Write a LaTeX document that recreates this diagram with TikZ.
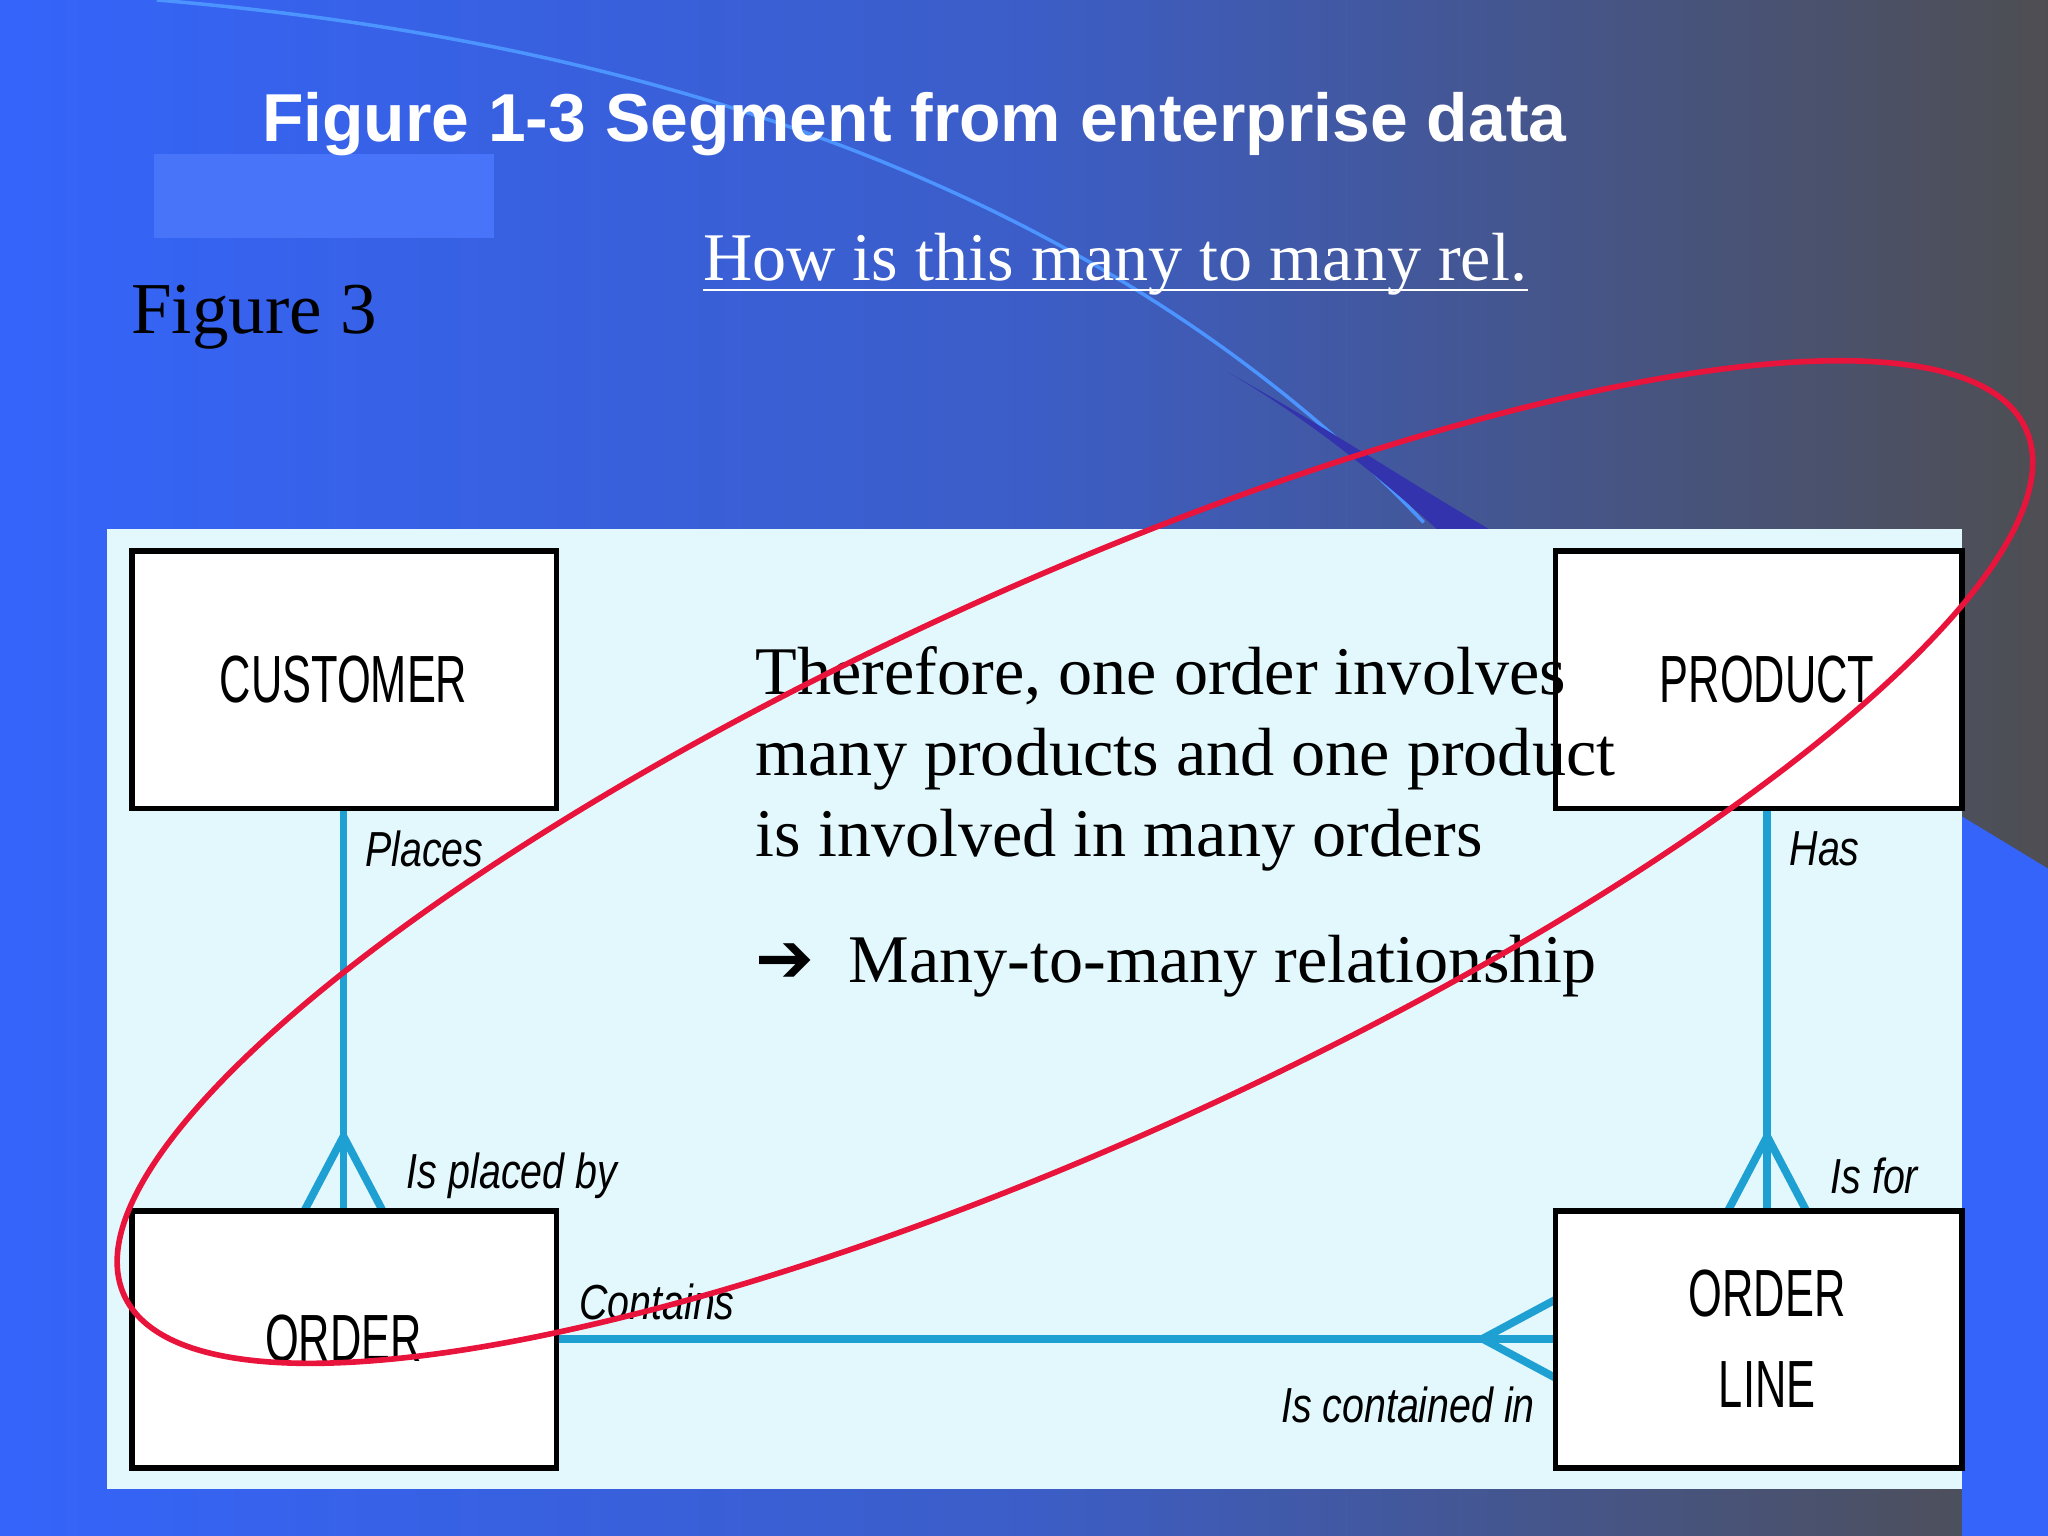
\documentclass[tikz,border=0pt]{standalone}
\usepackage{fontspec}
\setmainfont{Liberation Serif}
\setsansfont{Liberation Sans}
\usetikzlibrary{calc}
\definecolor{bgL}{RGB}{52,100,250}
\definecolor{bgR}{RGB}{78,78,82}
\definecolor{panel}{RGB}{226,248,252}
\definecolor{lnk}{RGB}{30,160,210}
\definecolor{ovl}{RGB}{232,20,60}
\tikzset{
 ent/.style={draw=black,line width=1.6pt,fill=white},
 entlbl/.style={font=\sffamily\fontsize{19}{22}\selectfont,xscale=0.65,align=center},
 rel/.style={font=\sffamily\itshape\fontsize{14}{16}\selectfont,xscale=0.8},
 lnkline/.style={draw=lnk,line width=2.2pt},
 body/.style={font=\fontsize{19.4}{23}\selectfont,anchor=base west}
}
\begin{document}
\begin{tikzpicture}[x=0.01306cm,y=-0.01306cm]
\useasboundingbox (0,0) rectangle (1568,1176);
\shade[left color=bgL,right color=bgR,middle color=bgL!70!bgR] (0,0) rectangle (1568,1176);
\draw[blue!60!cyan!70,line width=1pt] (120,0) .. controls (600,40) and (900,200) .. (1090,400);
\fill[blue!60!black!80] (940,285) .. controls (1020,330) and (1080,370) .. (1140,405) -- (1100,405) .. controls (1050,360) and (1000,320) .. cycle;
\fill[bgL] (1502,625) -- (1568,665) -- (1568,1176) -- (1502,1176) -- cycle;
\fill[bgL!90!white] (118,118) rectangle (378,182);
\node[font=\sffamily\bfseries\fontsize{19.3}{22}\selectfont,text=white] (title) at (700,95) {Figure 1-3 Segment from enterprise data};
\node[font=\fontsize{20.8}{24}\selectfont,anchor=base west,inner sep=0] (fig) at (100,255) {Figure 3};
\node[font=\fontsize{19.4}{23}\selectfont,text=white,anchor=base west,inner sep=0] (how) at (538,215) {How is this many to many rel.};
\draw[white,line width=0.8pt] ($(how.base west)+(0,7)$) -- ($(how.base east)+(0,7)$);
\fill[panel] (82,405) rectangle (1502,1140);
% lines
\coordinate (c1) at (263,870); \coordinate (p1) at (1353,870); \coordinate (o1) at (1135,1025);
\draw[lnkline] (263,619) -- (263,927);
\draw[lnkline] (c1) -- (233,927) (c1) -- (293,927);
\draw[lnkline] (1353,619) -- (1353,927);
\draw[lnkline] (p1) -- (1323,927) (p1) -- (1383,927);
\draw[lnkline] (426,1025) -- (1191,1025);
\draw[lnkline] (o1) -- (1191,995) (o1) -- (1191,1055);
% entities
\draw[ent] (101,422) rectangle (426,619); \node[entlbl] (cust) at (263,520) {CUSTOMER};
\draw[ent] (1191,422) rectangle (1502,619); \node[entlbl] (prod) at (1353,520) {PRODUCT};
\draw[ent] (101,927) rectangle (426,1124); \node[entlbl] (ord) at (263,1025) {ORDER};
\draw[ent] (1191,927) rectangle (1502,1124); \node[entlbl,align=center] (ol) at (1353,1025) {ORDER\\[4pt]LINE};
\node[rel] (l1) at (325,650) {Places};
\node[rel] (l2) at (392,900) {Is placed by};
\node[rel] (l3) at (1397,650) {Has};
\node[rel] (l4) at (1435,900) {Is for};
\node[rel] (l5) at (503,997) {Contains};
\node[rel] (l6) at (1078,1076) {Is contained in};
\node[body,inner sep=0] (t1) at (578,532) {Therefore, one order involves};
\node[body,inner sep=0] (t2) at (578,594) {many products and one product};
\node[body,inner sep=0] (t3) at (578,656) {is involved in many orders};
\node[body,inner sep=0] (t4) at (578,752) {{\fontspec{DejaVu Sans}\bfseries\fontsize{20}{20}\selectfont ➔}\hspace{0.5em}Many-to-many relationship};
\draw[ovl,line width=1.6pt,rotate around={24.5:(823,660)}] (823,660) ellipse (800 and 212);
\end{tikzpicture}
\end{document}
